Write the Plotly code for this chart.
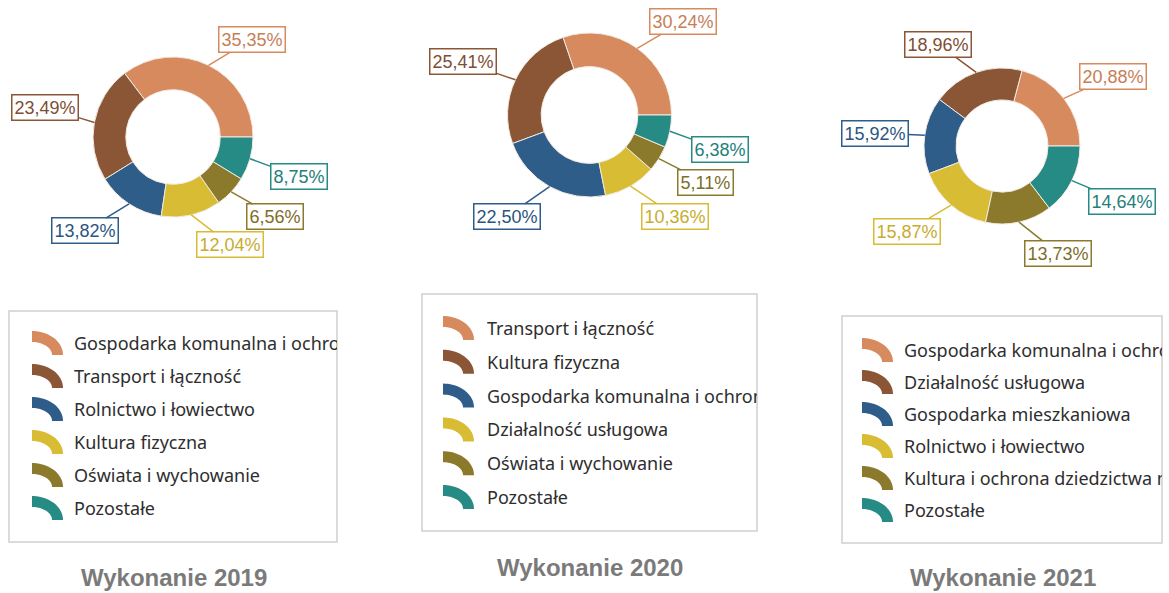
import numpy as np
import plotly.graph_objects as go

W, H = 1169, 593

# ---------------- data ----------------
years = ["2019", "2020", "2021"]
titles = ["Wykonanie 2019", "Wykonanie 2020", "Wykonanie 2021"]

labels_2019 = ["Gospodarka komunalna i ochrona środowiska", "Transport i łączność",
               "Rolnictwo i łowiectwo", "Kultura fizyczna",
               "Oświata i wychowanie", "Pozostałe"]
values_2019 = [35.35, 23.49, 13.82, 12.04, 6.56, 8.75]

labels_2020 = ["Transport i łączność", "Kultura fizyczna",
               "Gospodarka komunalna i ochrona środowiska", "Działalność usługowa",
               "Oświata i wychowanie", "Pozostałe"]
values_2020 = [30.24, 25.41, 22.50, 10.36, 5.11, 6.38]

labels_2021 = ["Gospodarka komunalna i ochrona środowiska", "Działalność usługowa",
               "Gospodarka mieszkaniowa", "Rolnictwo i łowiectwo",
               "Kultura i ochrona dziedzictwa narodowego", "Pozostałe"]
values_2021 = [20.88, 18.96, 15.92, 15.87, 13.73, 14.64]

all_labels = [labels_2019, labels_2020, labels_2021]
all_values = [values_2019, values_2020, values_2021]

# ---------------- styles / layout ----------------
colors = ["#D68A5E", "#8B5636", "#2F5D8A", "#D8BC34", "#8B7A2C", "#268B85"]
text_colors = ["#C67E56", "#7E4E32", "#2B5580", "#C8AC2E", "#7D6E28", "#23807A"]

# donut centres and outer radii (px)
centres = [(173, 137), (589.5, 115), (1002, 146)]
radii = [80, 82, 78]
hole = 0.59

# label box offsets from slice tip (px, screen coords: +y down)
label_offsets = [
    [(43, -26), (-49, -15), (-44, 27), (39, 30), (44, 25), (49, 18)],
    [(46, -27), (-52, -18), (-43, 30), (45, 30), (47, 24), (50, 18)],
    [(49, -22), (-38, -28), (-50, -2), (-44, 26), (39, 31), (50, 21)],
]

# legend boxes (left, top, right, bottom) in px, icon x, text x, first row y, row step
legend_boxes = [(9, 311, 337, 542), (422, 294, 757, 531), (842, 316, 1162, 543)]
legend_icon_x = [32, 443, 862]
legend_text_x = [73, 486, 903]
legend_row0 = [343, 328, 350]
legend_step = [33, 33.8, 32]
title_pos = [(174, 577), (590, 567), (1003, 577)]

LABEL_FONT = "Liberation Sans, Arial, sans-serif"


def px(x):
    return x / W


def py(y):
    return 1 - y / H


fig = go.Figure()
annotations = []
shapes = []

for k in range(3):
    cx, cy = centres[k]
    r = radii[k]
    vals = all_values[k]
    labs = all_labels[k]
    total = sum(vals)
    # first slice starts at 3 o'clock and runs counter-clockwise
    rot = 90 - vals[0] / total * 360
    fig.add_trace(go.Pie(
        labels=labs, values=vals, hole=hole, sort=False,
        direction="counterclockwise", rotation=rot,
        marker=dict(colors=colors, line=dict(color="#F2EAE2", width=1)),
        textinfo="none", showlegend=False,
        domain=dict(x=[px(cx - r), px(cx + r)], y=[py(cy + r), py(cy - r)]),
        hovertemplate="%{label}: %{value:.2f}%<extra></extra>",
    ))

    # data labels with leader lines
    cum = 0.0
    for i, v in enumerate(vals):
        mid = (cum + v / 2) / total * 2 * np.pi
        cum += v
        tx = cx + r * np.cos(mid)
        ty = cy - r * np.sin(mid)
        dx, dy = label_offsets[k][i]
        annotations.append(dict(
            x=px(tx), y=py(ty), xref="paper", yref="paper",
            ax=dx, ay=dy, showarrow=True, arrowhead=0, arrowwidth=1.5,
            arrowcolor=colors[i],
            text=f"{v:.2f}".replace(".", ",") + "%",
            font=dict(family=LABEL_FONT, size=18, color=text_colors[i]),
            bgcolor="white", bordercolor=colors[i], borderwidth=1.5, borderpad=2,
        ))

    # legend box
    l, t, rr, b = legend_boxes[k]
    shapes.append(dict(type="rect", xref="paper", yref="paper",
                       x0=px(l), x1=px(rr), y0=py(b), y1=py(t),
                       line=dict(color="#D0D0D0", width=1.5), fillcolor="white",
                       layer="below"))
    for i, lab in enumerate(labs):
        rowy = legend_row0[k] + i * legend_step[k]
        # quarter-ring icon
        x0 = legend_icon_x[k]
        yb = rowy + 12
        rxo, ryo, rxi, ryi = 31, 24, 20, 13
        th = np.linspace(np.pi / 2, 0, 24)
        outer = [(x0 + rxo * np.cos(a), yb - ryo * np.sin(a)) for a in th]
        inner = [(x0 + rxi * np.cos(a), yb - ryi * np.sin(a)) for a in th[::-1]]
        pts = outer + inner
        path = "M " + " L ".join(f"{px(a):.5f},{py(b_):.5f}" for a, b_ in pts) + " Z"
        shapes.append(dict(type="path", xref="paper", yref="paper", path=path,
                           fillcolor=colors[i], line=dict(width=0)))
        annotations.append(dict(
            x=px(legend_text_x[k]), y=py(rowy), xref="paper", yref="paper",
            xanchor="left", yanchor="middle", align="left", showarrow=False,
            width=rr - legend_text_x[k] - 1, borderpad=0,
            text=lab, font=dict(family="Noto Sans, Open Sans, sans-serif",
                                size=18, color="#2E2E2E"),
        ))

    # title
    tx_, ty_ = title_pos[k]
    annotations.append(dict(
        x=px(tx_), y=py(ty_), xref="paper", yref="paper", showarrow=False,
        xanchor="center", yanchor="middle", text=f"<b>{titles[k]}</b>",
        font=dict(family=LABEL_FONT, size=24, color="#7A7A7A"),
    ))

fig.update_layout(
    width=W, height=H, margin=dict(l=0, r=0, t=0, b=0),
    paper_bgcolor="white", plot_bgcolor="white",
    annotations=annotations, shapes=shapes,
)

fig.write_html("out.html", config={"displayModeBar": False},
               post_script="document.body.style.margin='0';document.body.style.overflow='hidden';")
